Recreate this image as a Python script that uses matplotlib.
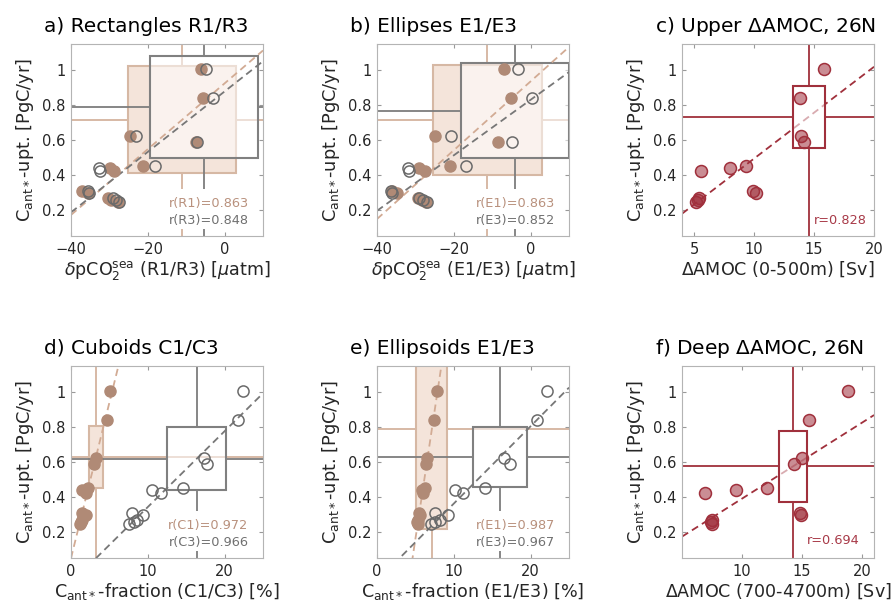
import numpy as np
import matplotlib.pyplot as plt
from matplotlib.patches import Rectangle
from matplotlib.colors import to_rgba

# Cant*-uptake per model [PgC/yr] (same for every panel)
upt = [1.006, 0.837, 0.62, 0.59, 0.45, 0.437, 0.423, 0.307, 0.298, 0.265, 0.255, 0.243]

# a) rectangles, dpCO2 sea [uatm]
dpco2_R1 = [-6.2, -5.6, -24.7, -7.5, -21.2, -29.9, -28.7, -37.1, -35.5, -30.3, -29.5, -27.7]
dpco2_R3 = [-4.8, -3.0, -23.2, -7.3, -18.2, -32.6, -32.4, -35.5, -35.2, -29.0, -28.3, -27.4]
# b) ellipses
dpco2_E1 = [-6.9, -5.1, -24.8, -8.4, -21.0, -29.0, -27.5, -36.1, -34.8, -29.3, -28.2, -27.3]
dpco2_E3 = [-3.2, 0.3, -20.8, -4.9, -16.8, -31.9, -31.7, -36.4, -36.1, -29.0, -28.0, -27.0]
# c) upper AMOC change [Sv]
amoc_upper = [15.8, 13.8, 13.9, 14.2, 9.3, 8.0, 5.6, 9.9, 10.2, 5.4, 5.3, 5.2]
# d) cuboids, Cant* fraction [%]
frac_C1 = [5.1, 4.65, 3.26, 3.04, 2.26, 1.39, 2.0, 1.39, 1.96, 1.4, 1.3, 1.17]
frac_C3 = [22.4, 21.8, 17.3, 17.7, 14.6, 10.6, 11.7, 7.9, 9.4, 8.6, 8.2, 7.5]
# e) ellipsoids
frac_E1 = [7.8, 7.4, 6.5, 6.4, 6.2, 5.8, 6.0, 5.5, 5.6, 5.3, 5.25, 5.3]
frac_E3 = [22.1, 20.8, 16.5, 17.3, 14.0, 10.1, 11.2, 7.6, 9.2, 8.2, 7.6, 7.0]
# f) deep AMOC change [Sv]
amoc_deep = [18.8, 15.55, 15.0, 14.3, 12.1, 9.5, 6.9, 14.85, 14.9, 7.5, 7.45, 7.5]

# observational constraints: x centre, x half range, y centre, y half range
obs_R1 = [-11.1, 14.0, 0.715, 0.305]
obs_R3 = [-5.3, 14.0, 0.786, 0.29]
obs_E1 = [-11.25, 14.15, 0.714, 0.314]
obs_E3 = [-4.15, 14.05, 0.767, 0.272]
obs_up = [14.58, 1.3, 0.732, 0.177]
obs_C1 = [3.27, 0.93, 0.629, 0.178]
obs_C3 = [16.35, 3.85, 0.617, 0.18]
obs_E1f = [7.1, 2.05, 0.788, 0.572]
obs_E3f = [16.0, 3.5, 0.626, 0.17]
obs_dp = [14.24, 1.2, 0.575, 0.2035]

BR = '#b08a76'
BR_LINE = '#d4b39e'
BR_TXT = '#b9917d'
GR = '#6a6a6a'
GR_LINE = '#7d7d7d'
RED = '#a0303c'

YLAB = r'C$_{\mathrm{ant*}}$-upt. [PgC/yr]'

fig = plt.figure(figsize=(8.94, 6.08), dpi=100)
lefts = [0.0794, 0.4217, 0.7629]
w = 0.2148
bottoms = [0.6118, 0.0822]
h = 0.3166


def make_ax(col, row, xlim, xticks, title, xlabel):
    ax = fig.add_axes([lefts[col], bottoms[row], w, h])
    ax.set_xlim(xlim)
    ax.set_ylim(0.05, 1.15)
    ax.set_xticks(xticks)
    ax.set_yticks([0.2, 0.4, 0.6, 0.8, 1.0])
    ax.set_yticklabels(['0.2', '0.4', '0.6', '0.8', '1'])
    ax.tick_params(direction='in', length=3, top=True, right=True, color='#999999',
                   labelsize=10.5, labelcolor='#262626', pad=4)
    for s in ax.spines.values():
        s.set_color('#b4b4b4')
        s.set_zorder(20)
    ax.set_ylabel(YLAB, fontsize=12.8, color='#262626')
    ax.set_xlabel(xlabel, fontsize=12.6, color='#262626', labelpad=2)
    ax.text(-0.14, 1.062, title, transform=ax.transAxes, fontsize=14.5,
            ha='left', va='baseline')
    return ax


def crosshair(ax, obs, lc, ec, fc, z):
    xc, dx, yc, dy = obs
    x0, x1 = ax.get_xlim()
    y0, y1 = ax.get_ylim()
    kw = dict(color=lc, lw=1.3, zorder=z, solid_capstyle='butt')
    ax.plot([x0, xc - dx], [yc, yc], **kw)
    ax.plot([xc + dx, x1], [yc, yc], **kw)
    ax.plot([xc, xc], [y0, yc - dy], **kw)
    ax.plot([xc, xc], [yc + dy, y1], **kw)
    ax.add_patch(Rectangle((xc - dx, yc - dy), 2 * dx, 2 * dy, facecolor=fc,
                           edgecolor=ec, lw=1.5, zorder=z + 0.1))


def fitline(ax, x, y, color, z):
    p = np.polyfit(x, y, 1)
    xx = np.array(ax.get_xlim())
    ax.plot(xx, np.polyval(p, xx), ls='--', dashes=(4, 2.5), color=color, lw=1.3, zorder=z)


def rtext(ax, x, y, s, color, pad=0.6, z=15):
    ax.text(x, y, s, transform=ax.transAxes, ha='right', va='baseline', fontsize=9.3,
            color=color, zorder=z,
            bbox=dict(boxstyle='square,pad=%.2f' % pad, fc='white', ec='none'))


def pair_panel(ax, x1, x3, o1, o3, l1, l3):
    crosshair(ax, o1, BR_LINE, '#d6b8a4', '#f4e4da', 2)
    crosshair(ax, o3, GR_LINE, '#808080', to_rgba('white', 0.55), 4)
    fitline(ax, x1, upt, '#d2ab94', 6)
    fitline(ax, x3, upt, '#777777', 6)
    ax.plot(x1, upt, 'o', ms=8, mfc=BR, mec=BR, mew=1, ls='none', zorder=8)
    ax.plot(x3, upt, 'o', ms=8, mfc='none', mec=GR, mew=1.1, ls='none', zorder=9)
    rtext(ax, 0.925, 0.153, l1, BR_TXT, z=15)
    rtext(ax, 0.925, 0.062, l3, '#707070', pad=0.15, z=16)


def amoc_panel(ax, x, obs, label, tx, ty):
    fitline(ax, x, upt, RED, 3)
    crosshair(ax, obs, RED, RED, to_rgba('white', 0.6), 4)
    ax.plot(x, upt, 'o', ms=8.6, mfc=to_rgba(RED, 0.55), mec=RED, mew=1.1,
            ls='none', zorder=8)
    rtext(ax, tx, ty, label, '#a83a48', pad=0.1)


ax = make_ax(0, 0, (-40, 10), [-40, -20, 0], 'a) Rectangles R1/R3',
             r'$\delta$pCO$_2^{\mathrm{sea}}$ (R1/R3) [$\mu$atm]')
pair_panel(ax, dpco2_R1, dpco2_R3, obs_R1, obs_R3, 'r(R1)=0.863', 'r(R3)=0.848')

ax = make_ax(1, 0, (-40, 10), [-40, -20, 0], 'b) Ellipses E1/E3',
             r'$\delta$pCO$_2^{\mathrm{sea}}$ (E1/E3) [$\mu$atm]')
pair_panel(ax, dpco2_E1, dpco2_E3, obs_E1, obs_E3, 'r(E1)=0.863', 'r(E3)=0.852')

ax = make_ax(2, 0, (4, 20), [5, 10, 15, 20], r'c) Upper $\Delta$AMOC, 26N',
             r'$\Delta$AMOC (0-500m) [Sv]')
amoc_panel(ax, amoc_upper, obs_up, 'r=0.828', 0.962, 0.061)

ax = make_ax(0, 1, (0, 25), [0, 10, 20], 'd) Cuboids C1/C3',
             r'C$_{\mathrm{ant*}}$-fraction (C1/C3) [%]')
pair_panel(ax, frac_C1, frac_C3, obs_C1, obs_C3, 'r(C1)=0.972', 'r(C3)=0.966')

ax = make_ax(1, 1, (0, 25), [0, 10, 20], 'e) Ellipsoids E1/E3',
             r'C$_{\mathrm{ant*}}$-fraction (E1/E3) [%]')
pair_panel(ax, frac_E1, frac_E3, obs_E1f, obs_E3f, 'r(E1)=0.987', 'r(E3)=0.967')

ax = make_ax(2, 1, (5, 21), [10, 15, 20], r'f) Deep $\Delta$AMOC, 26N',
             r'$\Delta$AMOC (700-4700m) [Sv]')
amoc_panel(ax, amoc_deep, obs_dp, 'r=0.694', 0.925, 0.073)

fig.savefig('out.png', dpi=100)
